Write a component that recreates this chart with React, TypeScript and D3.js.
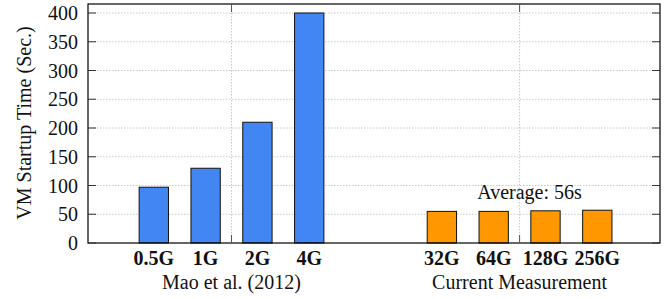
import React from "react";
import * as d3 from "d3";

const groupNames = ["Mao et al. (2012)", "Current Measurement"];
const maoCategories = ["0.5G", "1G", "2G", "4G"];
const maoValues = [97, 130, 210, 400];
const currentCategories = ["32G", "64G", "128G", "256G"];
const currentValues = [55, 55, 56, 57];
const yTicks = [0, 50, 100, 150, 200, 250, 300, 350, 400];
const annotation = "Average: 56s";
const yTitle = "VM Startup Time (Sec.)";

const W = 668, H = 299;
const left = 88, right = 660, top = 4, bottom = 243;
const font = "Liberation Serif, Tinos, Times New Roman, DejaVu Serif, serif";
const txt = { fontFamily: font, fontSize: 20, fill: "#111" } as const;

export default function App() {
  const x = d3.scaleLinear().domain([-1.27, 9.77]).range([left, right]);
  const y = d3.scaleLinear().domain([0, 400]).range([bottom, 13]);
  const groupOffsets = [0, 5.56];
  const groups = [
    { cats: maoCategories, vals: maoValues, color: "#4286f4" },
    { cats: currentCategories, vals: currentValues, color: "#ff9800" },
  ];
  const bw = 0.566;
  const groupCenters = groups.map((g, gi) => groupOffsets[gi] + (g.cats.length - 1) / 2);

  return (
    <svg width={W} height={H} style={{ position: "absolute", left: 0, top: 0 }}>
      <rect x={0} y={0} width={W} height={H} fill="#fff" />
      {yTicks.filter((t) => t > 0).map((t) => (
        <line key={"g" + t} x1={left} x2={right} y1={y(t)} y2={y(t)} stroke="#c8c8c8" strokeWidth={1} strokeDasharray="1.5,1.5" />
      ))}
      {groupCenters.map((c, i) => (
        <line key={"vg" + i} x1={x(c)} x2={x(c)} y1={top} y2={bottom} stroke="#c8c8c8" strokeWidth={1} strokeDasharray="1.5,1.5" />
      ))}
      {groups.map((g, gi) =>
        g.vals.map((v, i) => {
          const cx = groupOffsets[gi] + i;
          return (
            <rect key={gi + "-" + i} x={x(cx - bw / 2)} y={y(v)} width={x(bw) - x(0)} height={bottom - y(v)}
              fill={g.color} stroke="#111" strokeWidth={1} />
          );
        })
      )}
      <rect x={left} y={top} width={right - left} height={bottom - top} fill="none" stroke="#000" strokeWidth={1.2} />
      {yTicks.map((t) => (
        <g key={"t" + t}>
          <line x1={left} x2={left + 8} y1={y(t)} y2={y(t)} stroke="#333" strokeWidth={1} />
          <line x1={right} x2={right - 8} y1={y(t)} y2={y(t)} stroke="#333" strokeWidth={1} />
          <text x={78} y={y(t) + 7} textAnchor="end" style={txt}>{t}</text>
        </g>
      ))}
      {groupCenters.map((c, i) => (
        <g key={"vt" + i}>
          <line x1={x(c)} x2={x(c)} y1={top} y2={top + 8} stroke="#555" strokeWidth={1} />
          <line x1={x(c)} x2={x(c)} y1={bottom} y2={bottom - 8} stroke="#555" strokeWidth={1} />
        </g>
      ))}
      {groups.map((g, gi) =>
        g.cats.map((c, i) => (
          <text key={"c" + gi + i} x={x(groupOffsets[gi] + i)} y={265} textAnchor="middle" style={{ ...txt, fontWeight: "bold" }}>{c}</text>
        ))
      )}
      {groupNames.map((n, i) => (
        <text key={"n" + i} x={x(groupCenters[i])} y={289} textAnchor="middle" style={txt}>{n}</text>
      ))}
      <text x={529.5} y={199} textAnchor="middle" style={txt}>{annotation}</text>
      <text transform={`translate(31,123) rotate(-90)`} textAnchor="middle" style={txt}>{yTitle}</text>
    </svg>
  );
}
